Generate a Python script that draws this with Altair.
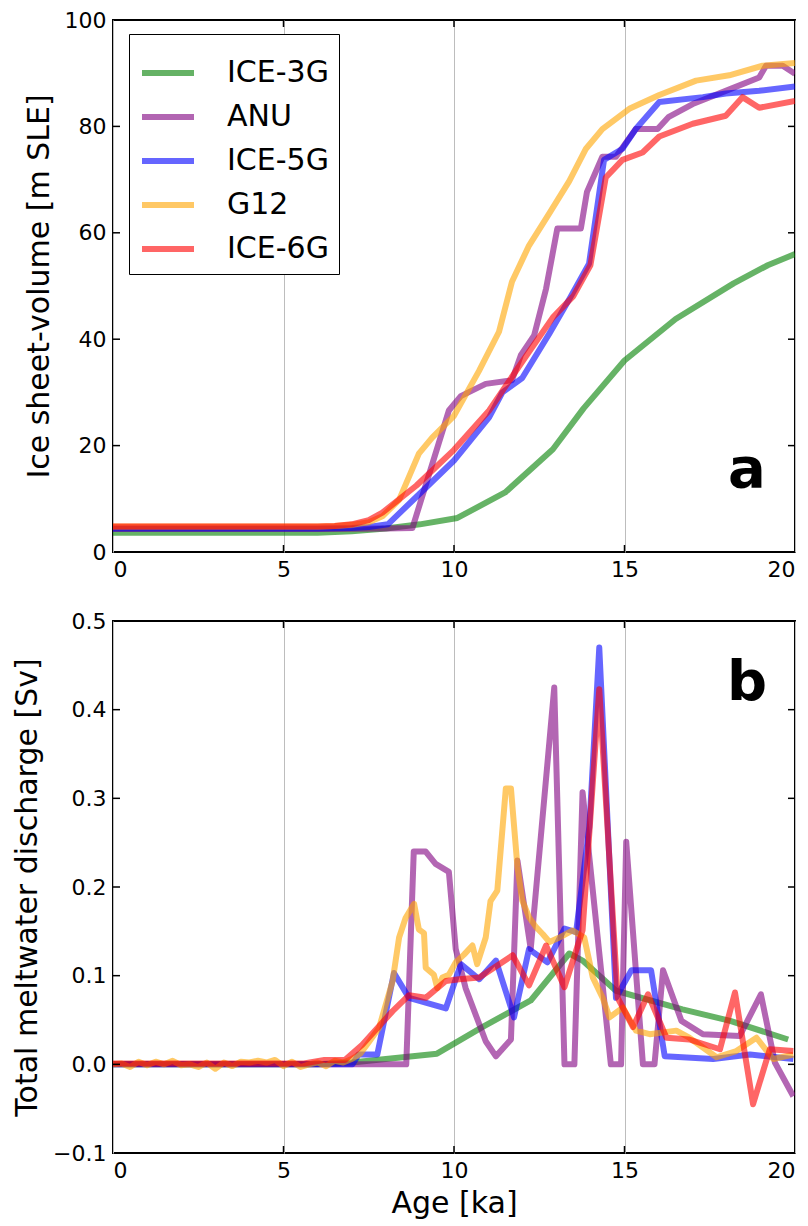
import altair as alt
import pandas as pd

SERIES = ["ICE-3G", "ANU", "ICE-5G", "G12", "ICE-6G"]
COLORS = ["#008000", "#800080", "#0000ff", "#ffa500", "#ff0000"]

# ---- panel a: ice sheet volume [m SLE] ----
vol_t = {
    "ICE-3G": [0, 2, 4, 6, 7, 8, 9, 10.1, 11.5, 12.9, 13.8, 15, 16.5, 18.2, 19.2, 20],
    "ANU": [0, 2, 4, 6, 8, 8.78, 9.85, 10.2, 10.93, 11.7, 11.96, 12.35, 12.7, 13.03, 13.72, 13.9,
            14.35, 14.75, 15.33, 15.97, 16.3, 17, 18.17, 18.95, 19.15, 19.64, 20],
    "ICE-5G": [0, 2, 4, 6, 7, 7.5, 8.06, 9, 10, 11.03, 11.42, 12, 12.8, 13.38, 13.96, 14.4, 14.94,
               15.33, 16.02, 17.3, 17.97, 18.95, 20],
    "G12": [0, 2, 4, 6, 6.5, 7, 7.5, 7.9, 8.39, 8.97, 9.36, 10, 10.73, 11.32, 11.7, 12.2, 12.79,
            13.38, 13.87, 14.35, 15.14, 16.02, 17.1, 18.07, 19.05, 20],
    "ICE-6G": [0, 2, 4, 6, 6.5, 7, 7.5, 7.9, 8.9, 10, 11.03, 12.1, 12.9, 13.5, 14.0, 14.45, 14.94,
               15.53, 16.02, 17, 17.97, 18.46, 18.95, 20],
}
vol_v = {
    "ICE-3G": [3.6, 3.6, 3.6, 3.6, 3.9, 4.4, 5.2, 6.4, 11.2, 19.3, 27, 36, 43.8, 50.5, 53.9, 56],
    "ANU": [4.3, 4.3, 4.3, 4.3, 4.4, 4.5, 26.6, 29.3, 31.6, 32.3, 37, 40.7, 49.5, 60.8, 60.8, 67.7,
            74.3, 74.3, 79.5, 79.5, 81.8, 84.2, 87.2, 89.2, 91.4, 91.4, 89.9],
    "ICE-5G": [4.4, 4.4, 4.4, 4.4, 4.5, 4.7, 5.2, 11, 17.2, 25.3, 30, 32.7, 41.1, 47.5, 54.2, 73.7,
               75.8, 79.5, 84.6, 85.5, 86.2, 86.7, 87.5],
    "G12": [4.8, 4.8, 4.8, 4.8, 4.9, 5.1, 5.6, 6.7, 9.8, 18.5, 21.5, 25.6, 34, 41.4, 50.8, 57.6, 63.6,
            69.7, 75.8, 79.5, 83.3, 85.9, 88.6, 89.6, 91.4, 91.9],
    "ICE-6G": [4.8, 4.8, 4.8, 4.8, 4.9, 5.2, 6.0, 7.4, 12.5, 19.2, 26.6, 36.7, 44.1, 48.1, 53.9, 70.4,
               73.7, 75.1, 78.1, 80.5, 82, 85.5, 83.5, 84.8],
}

# ---- panel b: total meltwater discharge [Sv] ----
dis_t = {
    "ICE-3G": [0, 3, 6, 7, 8, 9.5, 10.83, 12.25, 13.38, 13.77, 14.75, 16.7, 18.1, 19.8],
    "ANU": [0, 4, 8, 8.6, 8.82, 9.17, 9.46, 9.85, 10.05, 10.34, 10.93, 11.23, 11.67, 11.86, 12.25,
            12.94, 13.24, 13.53, 13.77, 14.6, 14.9, 15.05, 15.54, 15.88, 16.13, 16.67, 17.3, 18.38,
            19.0, 19.41, 19.95],
    "ICE-5G": [0, 4, 7.02, 7.2, 7.75, 8.24, 8.68, 9.76, 10.2, 10.74, 11.23, 11.76, 12.2, 12.74, 13.24,
               13.58, 13.97, 14.26, 14.75, 15.2, 15.78, 16.18, 17.6, 18.68, 19.95],
    "G12": [0, 0.25, 0.5, 0.75, 1.0, 1.25, 1.5, 1.75, 2.0, 2.25, 2.5, 2.75, 3.0, 3.25, 3.5, 3.75, 4.0,
            4.25, 4.5, 4.75, 5.0, 5.25, 5.5, 5.75, 6.0, 6.25, 6.5, 6.75, 7.0, 7.25, 7.5, 7.8, 8.2,
            8.39, 8.58, 8.83, 8.97, 9.12, 9.17, 9.41, 9.51, 9.66, 9.85, 10.05, 10.3, 10.54, 10.68,
            10.93, 11.07, 11.27, 11.52, 11.67, 11.86, 12.0, 12.2, 12.4, 12.6, 12.8, 13.09, 13.48,
            13.82, 14.07, 14.36, 14.56, 14.95, 15.34, 15.74, 16.52, 16.9, 17.7, 18.28, 18.87, 19.36,
            19.95],
    "ICE-6G": [0, 3, 5.6, 6.2, 6.8, 7.31, 7.8, 8.2, 8.68, 9.17, 9.76, 10.15, 10.74, 11.72, 12.2,
               12.7, 13.24, 13.77, 14.26, 14.8, 15.25, 15.69, 16.23, 16.9, 17.8, 18.24, 18.77,
               19.26, 19.95],
}
dis_v = {
    "ICE-3G": [0, 0, 0, 0.002, 0.006, 0.012, 0.042, 0.072, 0.125, 0.117, 0.083, 0.062, 0.049, 0.028],
    "ANU": [0, 0, 0, 0, 0.24, 0.24, 0.226, 0.217, 0.13, 0.086, 0.026, 0.009, 0.028, 0.23, 0.13,
            0.425, 0, 0, 0.307, 0, 0, 0.251, 0, 0, 0.106, 0.049, 0.034, 0.032, 0.079, 0.002, -0.036],
    "ICE-5G": [0, 0, 0, 0.011, 0.011, 0.103, 0.075, 0.063, 0.113, 0.096, 0.117, 0.053, 0.13, 0.115,
               0.153, 0.149, 0.268, 0.47, 0.075, 0.106, 0.106, 0.009, 0.006, 0.011, 0.006],
    "G12": [0.0, 0.001, -0.003, 0.003, -0.001, 0.003, 0.0, 0.004, -0.001, 0.0, -0.003, 0.002, -0.005,
            0.002, -0.002, 0.003, 0.002, 0.004, 0.002, 0.005, -0.002, 0.003, -0.003, 0.0, 0.002,
            -0.002, 0.004, 0.002, 0.006, 0.012, 0.025, 0.041, 0.094, 0.143, 0.165, 0.181, 0.152,
            0.148, 0.109, 0.101, 0.086, 0.098, 0.101, 0.115, 0.124, 0.134, 0.113, 0.143, 0.184,
            0.196, 0.311, 0.311, 0.223, 0.185, 0.166, 0.155, 0.147, 0.138, 0.143, 0.151, 0.143,
            0.098, 0.075, 0.053, 0.064, 0.038, 0.034, 0.038, 0.03, 0.008, 0.015, 0.03, 0.006, 0.011],
    "ICE-6G": [0.001, 0.001, 0.001, 0.005, 0.005, 0.022, 0.043, 0.06, 0.078, 0.075, 0.094, 0.096,
               0.098, 0.123, 0.089, 0.134, 0.087, 0.151, 0.423, 0.075, 0.042, 0.079, 0.03, 0.028,
               0.017, 0.081, -0.045, 0.017, 0.015],
}

X_TICKS = [0, 5, 10, 15, 20]
VOL_TICKS = [0, 20, 40, 60, 80, 100]
DIS_TICKS = [-0.1, 0.0, 0.1, 0.2, 0.3, 0.4, 0.5]

W, H = 682, 532
FONT = "DejaVu Sans"
TL = 7  # inward tick length


def long_df(tdict, vdict):
    rows = []
    for order, s in enumerate(SERIES):
        for t, v in zip(tdict[s], vdict[s]):
            rows.append({"model": s, "t": t, "v": v, "o": order})
    return pd.DataFrame(rows)


def panel(df, ydomain, yticks, ytitle, yfmt, letter, letter_y, show_legend, xtitle):
    xscale = alt.Scale(domain=[0, 20], nice=False, zero=False)
    yscale = alt.Scale(domain=ydomain, nice=False, zero=False)
    xaxis = alt.Axis(values=X_TICKS, format="d", title=xtitle, grid=True,
                     gridColor="#bdbdbd", gridWidth=1, ticks=False, domain=False,
                     labelPadding=7, titlePadding=7)
    yaxis = alt.Axis(values=yticks, format=yfmt, title=ytitle, grid=False, ticks=False,
                     domain=False, labelPadding=7, titlePadding=10)
    if show_legend:
        legend = alt.Legend(title=None, orient="none", legendX=16, legendY=14,
                            symbolType="stroke", symbolStrokeWidth=6, symbolSize=2704,
                            symbolOpacity=0.6, labelFontSize=30, labelFont=FONT,
                            labelColor="black", strokeColor="black", fillColor="white",
                            padding=10, rowPadding=-4, labelOffset=30)
    else:
        legend = None
    color = alt.Color("model:N", scale=alt.Scale(domain=SERIES, range=COLORS), legend=legend,
                      sort=SERIES)
    lines = alt.Chart(df).mark_line(strokeWidth=6, opacity=0.6, strokeJoin="round",
                                    clip=True).encode(
        x=alt.X("t:Q", scale=xscale, axis=xaxis),
        y=alt.Y("v:Q", scale=yscale, axis=yaxis),
        color=color,
        order=alt.Order("o:Q"),
        detail="model:N",
    )
    yt = pd.DataFrame({"v": yticks[1:-1]})
    xt = pd.DataFrame({"t": X_TICKS[1:-1]})
    tick_style = dict(color="black", strokeWidth=1.5)
    yl = alt.Chart(yt).mark_rule(**tick_style).encode(
        y=alt.Y("v:Q", scale=yscale, axis=yaxis), x=alt.value(0), x2=alt.value(TL))
    yr = alt.Chart(yt).mark_rule(**tick_style).encode(
        y=alt.Y("v:Q", scale=yscale, axis=yaxis), x=alt.value(W - TL), x2=alt.value(W))
    xb = alt.Chart(xt).mark_rule(**tick_style).encode(
        x=alt.X("t:Q", scale=xscale, axis=xaxis), y=alt.value(H - TL), y2=alt.value(H))
    xtp = alt.Chart(xt).mark_rule(**tick_style).encode(
        x=alt.X("t:Q", scale=xscale, axis=xaxis), y=alt.value(0), y2=alt.value(TL))
    lab = alt.Chart(pd.DataFrame({"s": [letter]})).mark_text(
        fontSize=56, fontWeight="bold", font=FONT, align="center", baseline="alphabetic",
        color="black").encode(text="s:N", x=alt.value(634), y=alt.value(letter_y))
    return alt.layer(lines, yl, yr, xb, xtp, lab).properties(width=W, height=H)


top = panel(long_df(vol_t, vol_v), [0, 100], VOL_TICKS, "Ice sheet-volume [m SLE]", "d",
            "a", 467, True, None)
bottom = panel(long_df(dis_t, dis_v), [-0.1, 0.5], DIS_TICKS, "Total meltwater discharge [Sv]",
               ".1f", "b", 79, False, "Age [ka]")

chart = alt.vconcat(top, bottom, spacing=28).resolve_legend(color="independent").properties(
    padding={"left": 3, "top": 0, "right": 0, "bottom": 0}, background="white"
).configure_view(stroke="black", strokeWidth=2).configure_axis(
    labelFont=FONT, labelFontSize=22, labelColor="black", titleFont=FONT, titleFontSize=30,
    titleFontWeight="normal", titleColor="black"
)

chart.save("out.html", embed_options={"renderer": "svg", "actions": False})
